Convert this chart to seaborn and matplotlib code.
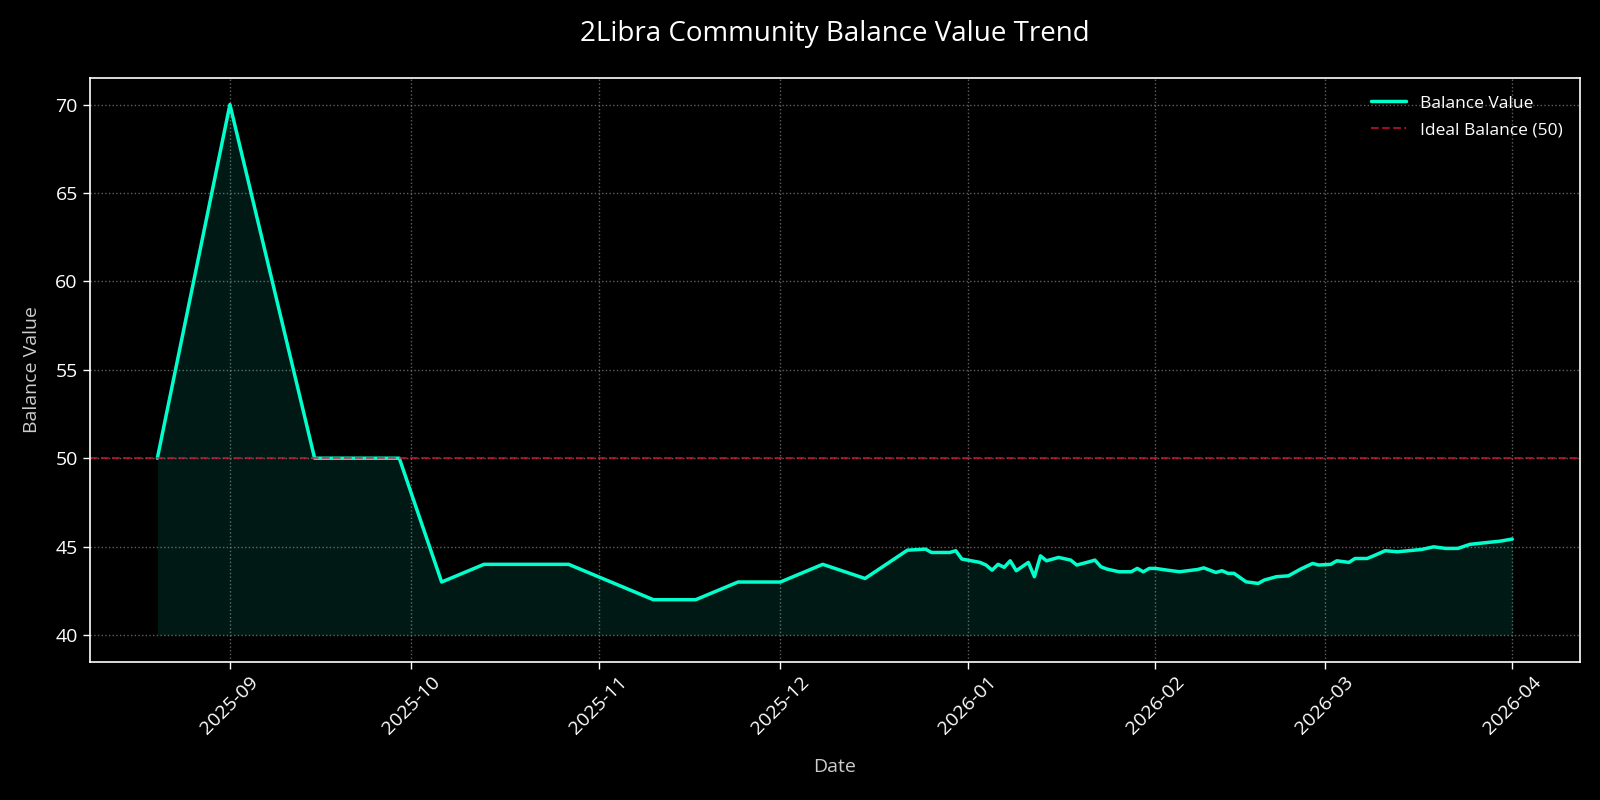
import matplotlib
matplotlib.use("Agg")
import matplotlib.pyplot as plt
import matplotlib.dates as mdates
import seaborn as sns
import pandas as pd

dates = [
    "2025-08-20", "2025-09-01", "2025-09-15", "2025-09-29", "2025-10-06",
    "2025-10-13", "2025-10-27", "2025-11-10", "2025-11-17", "2025-11-24",
    "2025-12-01", "2025-12-08", "2025-12-15", "2025-12-22", "2025-12-25",
    "2025-12-26", "2025-12-29", "2025-12-30", "2025-12-31", "2026-01-03",
    "2026-01-04", "2026-01-05", "2026-01-06", "2026-01-07", "2026-01-08",
    "2026-01-09", "2026-01-11", "2026-01-12", "2026-01-13", "2026-01-14",
    "2026-01-16", "2026-01-18", "2026-01-19", "2026-01-21", "2026-01-22",
    "2026-01-23", "2026-01-24", "2026-01-26", "2026-01-28", "2026-01-29",
    "2026-01-30", "2026-01-31", "2026-02-01", "2026-02-03", "2026-02-05",
    "2026-02-08", "2026-02-09", "2026-02-11", "2026-02-12", "2026-02-13",
    "2026-02-14", "2026-02-16", "2026-02-18", "2026-02-19", "2026-02-21",
    "2026-02-23", "2026-02-25", "2026-02-27", "2026-02-28", "2026-03-02",
    "2026-03-03", "2026-03-05", "2026-03-06", "2026-03-08", "2026-03-09",
    "2026-03-11", "2026-03-13", "2026-03-17", "2026-03-19", "2026-03-21",
    "2026-03-23", "2026-03-25", "2026-03-28", "2026-03-30", "2026-04-01",
]
balance = [
    50, 70, 50, 50, 43,
    44, 44, 42, 42, 43,
    43, 44, 43.2, 44.8, 44.86,
    44.67, 44.67, 44.77, 44.3, 44.11,
    43.96, 43.67, 44.0, 43.83, 44.2,
    43.64, 44.11, 43.3, 44.48, 44.2,
    44.39, 44.24, 43.96, 44.14, 44.24,
    43.86, 43.73, 43.58, 43.58, 43.77,
    43.58, 43.77, 43.77, 43.67, 43.58,
    43.71, 43.8, 43.54, 43.64, 43.49,
    43.49, 43.01, 42.92, 43.11, 43.3,
    43.35, 43.73, 44.05, 43.96, 44.0,
    44.2, 44.11, 44.33, 44.33, 44.47,
    44.77, 44.71, 44.84, 44.99, 44.9,
    44.9, 45.13, 45.24, 45.31, 45.43,
]
ideal_value = 50
fill_base = 40

df = pd.DataFrame({"Date": pd.to_datetime(dates), "Balance Value": balance})

sns.set_theme(style="dark")
plt.rcParams["font.family"] = ["Open Sans", "DejaVu Sans"]

line_color = "#00FFCC"
ideal_color = "#DC143C"

fig, ax = plt.subplots(figsize=(16, 8), dpi=100)
fig.patch.set_facecolor("black")
ax.set_facecolor("black")

sns.lineplot(data=df, x="Date", y="Balance Value", ax=ax, color=line_color,
             linewidth=2.5, label="Balance Value")
ax.fill_between(df["Date"], df["Balance Value"], fill_base, color=line_color,
                alpha=0.1, linewidth=0)
ax.axhline(ideal_value, color=ideal_color, linestyle="--", linewidth=1.5,
           alpha=0.7, label="Ideal Balance (50)")

ax.grid(True, color="#888888", linestyle=":", linewidth=1, alpha=0.7)
for s in ax.spines.values():
    s.set_color("white")
    s.set_linewidth(1.2)
ax.tick_params(colors="white", labelsize=14, length=5, width=1, bottom=True, left=True)
ax.xaxis.set_major_locator(mdates.MonthLocator())
ax.xaxis.set_major_formatter(mdates.DateFormatter("%Y-%m"))
plt.setp(ax.get_xticklabels(), rotation=45, ha="center", rotation_mode="default")

ax.set_title("2Libra Community Balance Value Trend", color="white", fontsize=20, pad=27)
ax.set_xlabel("Date", color="#cccccc", fontsize=14, labelpad=14)
ax.set_ylabel("Balance Value", color="#cccccc", fontsize=14, labelpad=10)

leg = ax.legend(loc="upper right", frameon=False, fontsize=12.5,
                borderaxespad=0.6, labelspacing=0.6)
for t in leg.get_texts():
    t.set_color("white")

fig.subplots_adjust(left=0.056, right=0.9875, top=0.9025, bottom=0.173)
fig.savefig("out.png", dpi=100, facecolor="black")
